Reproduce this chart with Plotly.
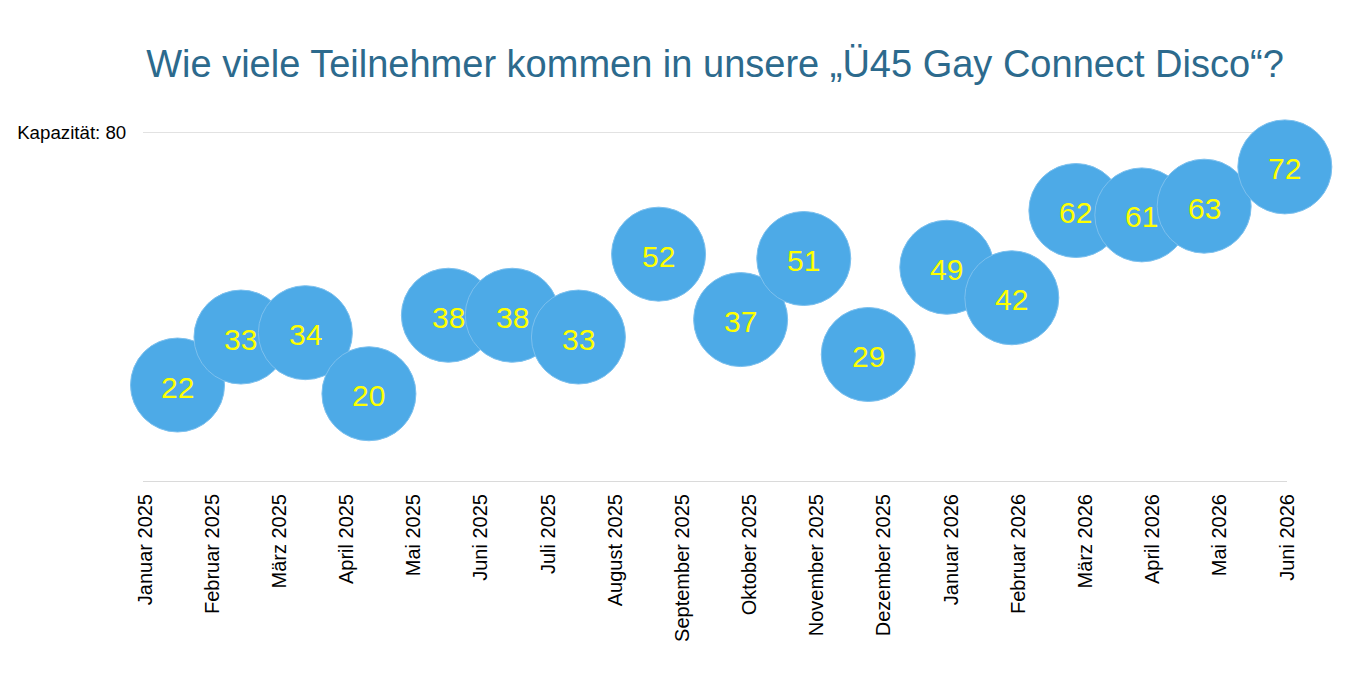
import calendar
import plotly.graph_objects as go

# Data
month_labels = ["Januar 2025", "Februar 2025", "März 2025", "April 2025", "Mai 2025",
                "Juni 2025", "Juli 2025", "August 2025", "September 2025", "Oktober 2025",
                "November 2025", "Dezember 2025", "Januar 2026", "Februar 2026",
                "März 2026", "April 2026", "Mai 2026", "Juni 2026"]
event_dates = ["2025-01-16", "2025-02-13", "2025-03-13", "2025-04-11", "2025-05-17",
               "2025-06-15", "2025-07-15", "2025-08-21", "2025-09-27", "2025-10-26",
               "2025-11-24", "2025-12-30", "2026-01-29", "2026-02-25", "2026-03-27",
               "2026-04-24", "2026-05-31"]
participants = [22, 33, 34, 20, 38, 38, 33, 52, 37, 51, 29, 49, 42, 62, 61, 63, 72]
capacity = 80
capacity_label = "Kapazität: 80"
title_text = "Wie viele Teilnehmer kommen in unsere „Ü45 Gay Connect Disco“?"


def month_position(d):
    y, m, day = (int(p) for p in d.split("-"))
    days = calendar.monthrange(y, m)[1]
    return (y - 2025) * 12 + (m - 1) + (day - 1) / days


xpos = [month_position(d) for d in event_dates]
FONT = "Liberation Sans, Arial, sans-serif"

fig = go.Figure()
fig.add_trace(go.Scatter(
    x=xpos, y=participants, mode="markers",
    marker=dict(size=94, color="#4DAAE7", opacity=1,
                line=dict(width=1, color="#7CC0EE")),
    cliponaxis=False, showlegend=False, hoverinfo="skip",
))

annotations = [
    dict(x=xv, y=yv, text=str(yv), showarrow=False, xanchor="center", yanchor="middle",
         yshift=-2, font=dict(family=FONT, size=30, color="#FFFF00"))
    for xv, yv in zip(xpos, participants)
]

fig.update_layout(
    width=1366, height=679,
    margin=dict(l=143, r=79, t=128, b=198),
    paper_bgcolor="white", plot_bgcolor="white",
    font=dict(family=FONT, color="black"),
    title=dict(text=title_text, x=(143 + 1287) / 2 / 1366, xanchor="center",
               y=1 - 64 / 679, yanchor="middle",
               font=dict(size=38, color="#2C6A8D")),
    annotations=annotations,
    xaxis=dict(range=[-0.03, 17.0], tickmode="array",
               tickvals=list(range(len(month_labels))), ticktext=month_labels,
               tickangle=-90, tickfont=dict(size=20, color="black"),
               showgrid=False, zeroline=False, showline=True,
               linecolor="#DADADA", linewidth=1,
               ticks="outside", ticklen=4, tickcolor="rgba(0,0,0,0)"),
    yaxis=dict(range=[0, 353 / 4.3625], tickmode="array", tickvals=[capacity],
               ticktext=[capacity_label], tickfont=dict(size=18.7, color="black"),
               showgrid=True, gridcolor="#E2E2E2", gridwidth=1,
               zeroline=False, showline=False,
               ticks="outside", ticklen=12, tickcolor="rgba(0,0,0,0)"),
)

fig.write_html("out.html")
